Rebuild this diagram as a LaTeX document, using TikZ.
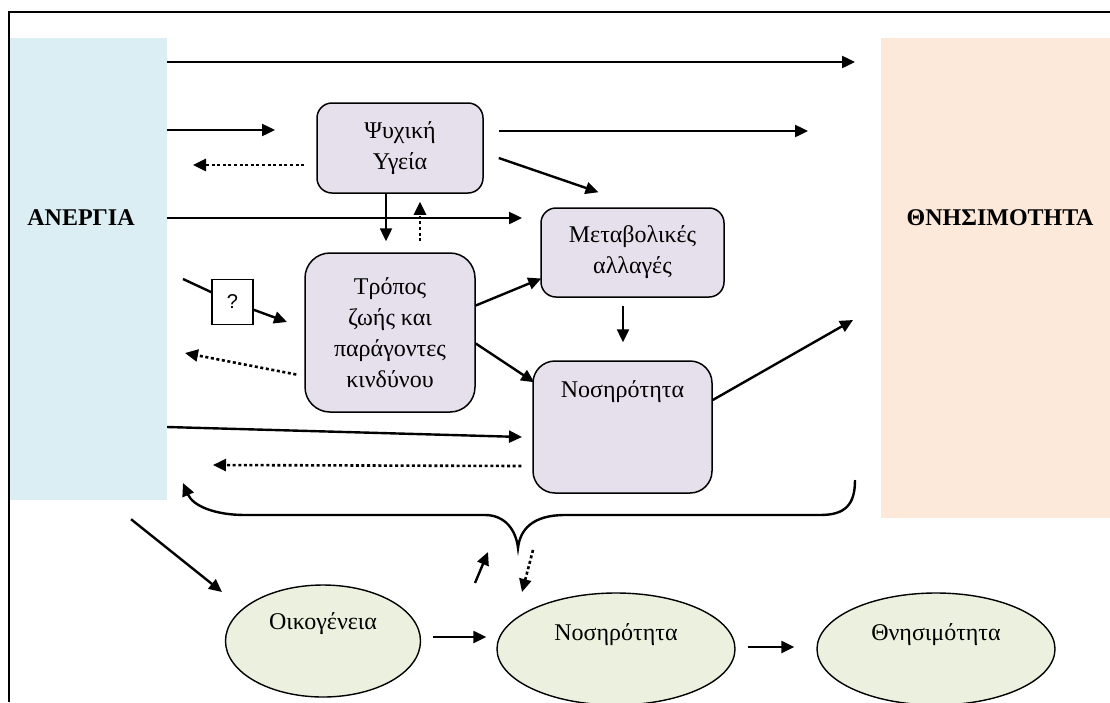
\documentclass[tikz,border=0pt]{standalone}
\usepackage{fontspec}
\setmainfont{Liberation Serif}
\newfontfamily\qmarkfont{Liberation Sans}
\usetikzlibrary{arrows.meta,shapes.geometric,calc}

\definecolor{unempfill}{HTML}{DAEEF3}
\definecolor{mortfill}{HTML}{FDE9D9}
\definecolor{procfill}{HTML}{E5E0EC}
\definecolor{ovalfill}{HTML}{EBF1DE}

\begin{document}
\begin{tikzpicture}[x=1pt,y=-1pt,
  txt/.style={font=\fontsize{24}{31}\selectfont, align=center},
  bigtxt/.style={font=\fontsize{24}{30}\selectfont\bfseries, anchor=base, inner sep=0pt},
  colbox/.style={draw=none, inner sep=0pt},
  procbox/.style={draw, line width=1.5pt, fill=procfill, inner sep=0pt, txt},
  oval/.style={ellipse, draw, line width=1.4pt, fill=ovalfill, inner sep=0pt},
  ovaltxt/.style={txt, anchor=base, inner sep=0pt},
  plain/.style={line width=2.4pt},
  arr/.style={plain, -{Triangle[length=13pt,width=12pt]}},
  darr/.style={arr, line width=2.6pt, dash pattern=on 3pt off 2.6pt},
]
\useasboundingbox (0,0) rectangle (1110,702);

% outer frame (top and left edges)
\draw[line width=2.4pt] (9,702) -- (9,12) -- (1110,12);

% the two coloured columns
\node[colbox, fill=unempfill, minimum width=157pt, minimum height=462pt] (an) at (88.5,269) {};
\node[colbox, fill=mortfill, minimum width=229pt, minimum height=480pt] (th) at (995.5,278) {};
\node[bigtxt] (antxt) at (81,225) {ΑΝΕΡΓΙΑ};
\node[bigtxt] (thtxt) at (1000,225) {ΘΝΗΣΙΜΟΤΗΤΑ};

% intermediate factors
\node[procbox, rounded corners=15pt, minimum width=166pt, minimum height=90pt] (psy) at (400,148) {Ψυχική\\Υγεία};
\node[procbox, rounded corners=15pt, minimum width=183pt, minimum height=89pt] (met) at (632.5,252.5) {Μεταβολικές\\αλλαγές};
\node[procbox, rounded corners=25pt, minimum width=170pt, minimum height=159pt] (life) at (390,332.5) {Τρόπος\\ζωής και\\παράγοντες\\κινδύνου};
\node[procbox, rounded corners=22pt, minimum width=179pt, minimum height=132pt] (morb) at (622.5,427) {};
\node[ovaltxt] (morbtxt) at ($(morb.center)+(0,-30)$) {Νοσηρότητα};

% family level
\node[oval, minimum width=195pt, minimum height=112pt] (fam) at (323,641) {};
\node[oval, minimum width=238pt, minimum height=112pt] (morb2) at (616,649) {};
\node[oval, minimum width=238pt, minimum height=112pt] (mort2) at (936,649) {};
\node[ovaltxt] (famtxt) at ($(fam.center)+(0,-12)$) {Οικογένεια};
\node[ovaltxt] (morb2txt) at ($(morb2.center)+(0,-9)$) {Νοσηρότητα};
\node[ovaltxt] (mort2txt) at ($(mort2.center)+(0,-9)$) {Θνησιμότητα};

% free ends of connectors
\coordinate (top) at (855,62);
\coordinate (topmid) at (275,130);
\coordinate (psyback) at (193,165);
\coordinate (psyout) at (808,131);
\coordinate (metin) at (522,218);
\coordinate (qin) at (183,279);
\coordinate (qout) at (287,322);
\coordinate (lifeback) at (185,353);
\coordinate (morbout) at (853,320);
\coordinate (morbin) at (522,437);
\coordinate (morbback) at (213,465);
\coordinate (famin) at (222,592);
\coordinate (upfrom) at (475,583);
\coordinate (upto) at (488,552);
\coordinate (downfrom) at (533,550);
\coordinate (downto) at (522,592);

% unknown link box
\node[draw, line width=1.2pt, fill=white, minimum width=41pt, minimum height=45pt, inner sep=0pt,
      font=\qmarkfont\fontsize{20}{22}\selectfont] (q) at (232.5,302) {?};

% connectors from unemployment
\draw[arr] (an.east |- top) -- (top);
\draw[arr] (an.east |- topmid) -- (topmid);
\draw[arr] (an.east |- metin) -- (metin);
\draw[arr] ($(an.east)+(0,158)$) -- (morbin);
\draw[plain] (qin) -- (q);
\draw[arr] (q) -- (qout);
\draw[arr] ($(an.south)+(42.5,19)$) -- (famin);

% connectors between the factors
\draw[darr, shorten <=12pt] (psy.west |- psyback) -- (psyback);
\draw[arr, shorten <=15pt] (psy.east |- psyout) -- (psyout);
\draw[arr] ($(psy.east)+(15,10)$) -- ($(met.north)+(-34,-15)$);
\draw[arr] ($(psy.south)+(-14,0)$) -- ($(life.north)+(-4,-11)$);
\draw[darr] ($(life.north)+(30,-11)$) -- ($(psy.south)+(20,8)$);
\draw[darr] ($(life.west)+(-8,42)$) -- (lifeback);
\draw[arr] ($(life.east)+(0,-27)$) -- ($(met.west)+(1,26)$);
\draw[arr] ($(life.east)+(0,11)$) -- ($(morb.north west)+(2,22)$);
\draw[arr] ($(met.south)+(-9.5,8)$) -- ($(morb.north)+(0.5,-18)$);
\draw[arr] ($(morb.east)+(0,-27)$) -- (morbout);
\draw[darr] ($(morb.west)+(-11,39)$) -- (morbback);

% feedback brace from the family level
\coordinate (braceR) at (855,480);
\coordinate (cusp) at (518,548);
\coordinate (braceL) at (183,483);
\draw[arr] (braceR) .. controls (855,505) and (845,515) .. (820,515) -- (565,515)
  .. controls (532,515) and (520,530) .. (cusp)
  .. controls (516,530) and (505,515) .. (485,515) -- (245,515)
  .. controls (215,515) and (193,506) .. (braceL);

% family level connectors
\draw[arr] (upfrom) -- (upto);
\draw[darr] (downfrom) -- (downto);
\draw[arr] ($(fam.east)+(12,-4)$) -- ($(morb2.west)+(-10,-12)$);
\draw[arr] ($(morb2.east)+(12,-2)$) -- ($(mort2.west)+(-22,-2)$);
\end{tikzpicture}
\end{document}
